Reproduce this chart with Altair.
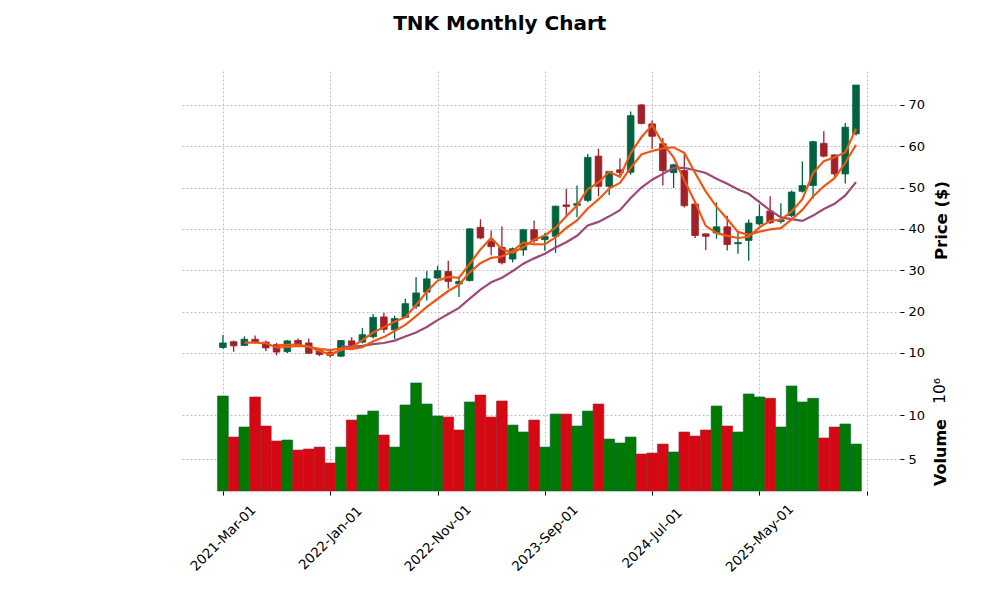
import altair as alt
import pandas as pd

# ---- data (monthly, 2021-03 .. 2026-02) ----
months = list(pd.date_range("2021-03-01", periods=60, freq="MS").strftime("%Y-%m-%d"))

opens = [11.3, 12.7, 11.8, 13.3, 12.6, 12.0, 10.3, 13.0, 12.4, 10.6,
         10.2, 9.2, 12.9, 12.6, 13.9, 18.7, 15.6, 18.6, 21.3, 24.7,
         28.1, 29.7, 26.7, 27.5, 40.4, 37.0, 35.5, 32.7, 34.9, 39.8,
         37.4, 38.2, 45.8, 45.7, 46.9, 57.6, 50.3, 54.3, 53.7, 70.0,
         65.4, 60.6, 53.6, 54.1, 46.0, 38.8, 39.0, 40.5, 36.4, 37.2,
         41.2, 44.3, 41.8, 43.2, 49.1, 50.5, 60.7, 57.9, 53.3, 63.0]
highs = [14.3, 13.0, 14.0, 14.2, 13.0, 12.4, 13.1, 13.5, 13.5, 11.0,
         10.6, 13.1, 13.8, 16.0, 19.4, 19.7, 19.0, 23.1, 28.3, 29.8,
         31.1, 32.3, 28.5, 40.2, 42.3, 39.6, 40.6, 35.5, 40.0, 42.0,
         39.0, 45.6, 49.7, 50.5, 58.1, 59.4, 54.0, 57.1, 68.4, 70.2,
         66.2, 62.0, 55.8, 58.5, 46.3, 38.9, 46.4, 43.2, 39.5, 42.3,
         45.9, 47.9, 46.2, 49.3, 56.3, 61.3, 63.6, 58.0, 65.6, 74.8]
lows = [11.0, 10.3, 11.7, 12.2, 10.4, 9.4, 10.0, 11.5, 9.7, 9.2,
        8.9, 9.0, 11.0, 12.3, 13.5, 14.9, 13.4, 18.4, 20.6, 22.7,
        27.8, 25.5, 23.5, 27.3, 37.5, 33.6, 31.4, 31.9, 33.5, 36.5,
        34.7, 34.2, 42.8, 42.8, 46.5, 47.9, 48.2, 52.7, 53.1, 65.3,
        59.4, 50.5, 49.9, 45.2, 37.8, 34.9, 37.6, 34.8, 34.0, 32.3,
        40.8, 41.2, 41.3, 42.8, 48.8, 47.3, 57.3, 52.5, 51.0, 62.6]
closes = [12.4, 11.7, 13.3, 12.5, 11.2, 10.2, 12.9, 11.9, 9.9, 9.6,
          9.4, 13.0, 11.8, 14.4, 18.6, 15.7, 18.3, 21.9, 24.5, 27.9,
          29.9, 27.3, 27.3, 40.0, 37.8, 35.7, 31.8, 35.2, 39.8, 37.2,
          38.2, 45.5, 45.4, 46.1, 57.3, 50.3, 53.9, 53.6, 67.4, 65.5,
          62.4, 54.1, 55.5, 45.6, 38.4, 38.2, 40.5, 36.2, 36.7, 41.4,
          43.0, 41.5, 42.2, 48.9, 50.5, 61.1, 57.6, 53.3, 64.6, 74.8]
volumes = [12.16, 7.5, 8.64, 12.05, 8.75, 7.05, 7.16, 6.02, 6.14, 6.36,
           4.55, 6.36, 9.43, 10.0, 10.45, 7.73, 6.36, 11.14, 13.64, 11.25,
           9.89, 9.77, 8.3, 11.48, 12.27, 9.77, 11.6, 8.86, 8.07, 9.43,
           6.36, 10.11, 10.11, 8.75, 10.45, 11.25, 7.27, 6.82, 7.5, 5.57,
           5.68, 6.7, 5.8, 8.07, 7.61, 8.3, 11.02, 8.75, 8.07, 12.39,
           12.05, 11.9, 8.64, 13.3, 11.48, 11.9, 7.39, 8.64, 8.98, 6.7]
vol_dir = ["up", "down", "up", "down", "down", "down", "up", "down", "down", "down",
           "down", "up", "down", "up", "up", "down", "up", "up", "up", "up",
           "up", "down", "down", "up", "down", "down", "down", "up", "up", "down",
           "up", "up", "down", "up", "up", "down", "up", "up", "up", "down",
           "down", "down", "up", "down", "down", "down", "up", "down", "up", "up",
           "up", "down", "up", "up", "up", "up", "down", "down", "up", "up"]

tick_idx = [0, 10, 20, 30, 40, 50, 60]
tick_labels = ["2021-Mar-01", "2022-Jan-01", "2022-Nov-01", "2023-Sep-01",
               "2024-Jul-01", "2025-May-01", ""]
price_ticks = [10, 20, 30, 40, 50, 60, 70]
vol_ticks = [5, 10]

df = pd.DataFrame({"i": list(range(len(months))), "date": months, "open": opens,
                   "high": highs, "low": lows, "close": closes,
                   "volume": volumes, "vdir": vol_dir})

FONT = "DejaVu Sans"
UP, DOWN = "#006340", "#a02128"
VUP, VDOWN = "#007a00", "#d50913"
MA_ORANGE, MA_PURPLE = "#ef5714", "#9f4878"

W = 720
HP = 298
HV = 120
VMIN, VMAX = 1.37, 15.0

xscale = alt.Scale(domain=[-4.0, 63.1], nice=False, zero=False)
label_expr = " : ".join(f"datum.value == {v} ? '{l}'" for v, l in zip(tick_idx, tick_labels)) + " : ''"

x_axis_price = alt.Axis(values=tick_idx, labels=False, ticks=False, domain=False,
                        grid=True, title=None)
y_axis_price = alt.Axis(orient="right", values=price_ticks, title="Price ($)",
                        titleAngle=270, titleX=41, titleY=HP / 2, titleAlign="center",
                        titleBaseline="middle", titleFontSize=16.5, titleFontWeight="bold",
                        tickSize=4, labelPadding=4, labelFontSize=13, domain=False, grid=True)
yscale_price = alt.Scale(domain=[6.1, 78.2], nice=False, zero=False)
cscale = alt.Scale(domain=["up", "down"], range=[UP, DOWN])

base = alt.Chart(df).transform_calculate(
    dir="datum.close >= datum.open ? 'up' : 'down'",
    xa="datum.i - 0.31",
    xb="datum.i + 0.31",
)

wick = base.mark_rule(strokeWidth=1.3).encode(
    x=alt.X("i:Q", scale=xscale, axis=x_axis_price),
    y=alt.Y("low:Q", scale=yscale_price, axis=y_axis_price),
    y2="high:Q",
    color=alt.Color("dir:N", scale=cscale, legend=None),
)
body = base.mark_bar(strokeWidth=0.8).encode(
    x=alt.X("xa:Q", scale=xscale, axis=x_axis_price),
    x2="xb:Q",
    y=alt.Y("open:Q", scale=yscale_price, axis=y_axis_price),
    y2="close:Q",
    color=alt.Color("dir:N", scale=cscale, legend=None),
    stroke=alt.Stroke("dir:N", scale=cscale, legend=None),
)


def ma_layer(n, color):
    return (
        alt.Chart(df)
        .transform_window(ma="mean(close)", cnt="count()", frame=[-(n - 1), 0],
                          sort=[alt.SortField("i")])
        .transform_filter(f"datum.cnt == {n}")
        .mark_line(color=color, strokeWidth=2.2)
        .encode(
            x=alt.X("i:Q", scale=xscale, axis=x_axis_price),
            y=alt.Y("ma:Q", scale=yscale_price, axis=y_axis_price),
        )
    )


price = alt.layer(wick, body, ma_layer(12, MA_PURPLE), ma_layer(6, MA_ORANGE),
                  ma_layer(3, MA_ORANGE)).properties(width=W, height=HP)

x_axis_vol = alt.Axis(values=tick_idx, labelExpr=label_expr, labelAngle=-45,
                      labelAlign="center", labelBaseline="middle", labelPadding=43,
                      labelOverlap=False, labelFontSize=13.5, tickSize=4, domain=False,
                      grid=True, title=None)
y_axis_vol = alt.Axis(orient="right", values=vol_ticks, title="Volume",
                      titleAngle=270, titleX=40, titleY=81, titleAlign="center",
                      titleBaseline="middle", titleFontSize=16, titleFontWeight="bold",
                      tickSize=4, labelPadding=4, labelFontSize=13, domain=False, grid=True)
vscale = alt.Scale(domain=["up", "down"], range=[VUP, VDOWN])
vstroke = alt.Scale(domain=["up", "down"], range=["#006a00", "#c0081a"])

vol_bars = alt.Chart(df).transform_calculate(
    xa="datum.i - 0.5", xb="datum.i + 0.5"
).mark_bar(strokeWidth=0.6).encode(
    x=alt.X("xa:Q", scale=xscale, axis=x_axis_vol),
    x2="xb:Q",
    y=alt.Y("volume:Q", scale=alt.Scale(domain=[VMIN, VMAX], nice=False, zero=False),
            axis=y_axis_vol),
    y2=alt.datum(VMIN),
    fill=alt.Fill("vdir:N", scale=vscale, legend=None),
    stroke=alt.Stroke("vdir:N", scale=vstroke, legend=None),
)
exp_text = alt.Chart(pd.DataFrame({"t": ["10⁶"]})).mark_text(
    angle=270, align="center", baseline="middle", fontSize=15.5, font=FONT, color="black"
).encode(text="t:N", x=alt.value(W + 40), y=alt.value(20))

volume = alt.layer(vol_bars, exp_text).properties(width=W, height=HV)

chart = alt.vconcat(price, volume, spacing=2).properties(
    title=alt.TitleParams("TNK Monthly Chart", fontSize=20, fontWeight="bold", font=FONT,
                          anchor="middle", offset=37, dx=-65),
    padding={"left": 172, "top": 6, "right": 5, "bottom": 5},
).configure(font=FONT).configure_view(stroke=None).configure_axis(
    labelFont=FONT, titleFont=FONT, labelColor="black", titleColor="black",
    gridColor="#b0b0b0", gridDash=[2, 2], gridWidth=0.8, tickColor="black",
    tickWidth=1,
)

chart.save("out.html", embed_options={"renderer": "svg", "actions": False})
